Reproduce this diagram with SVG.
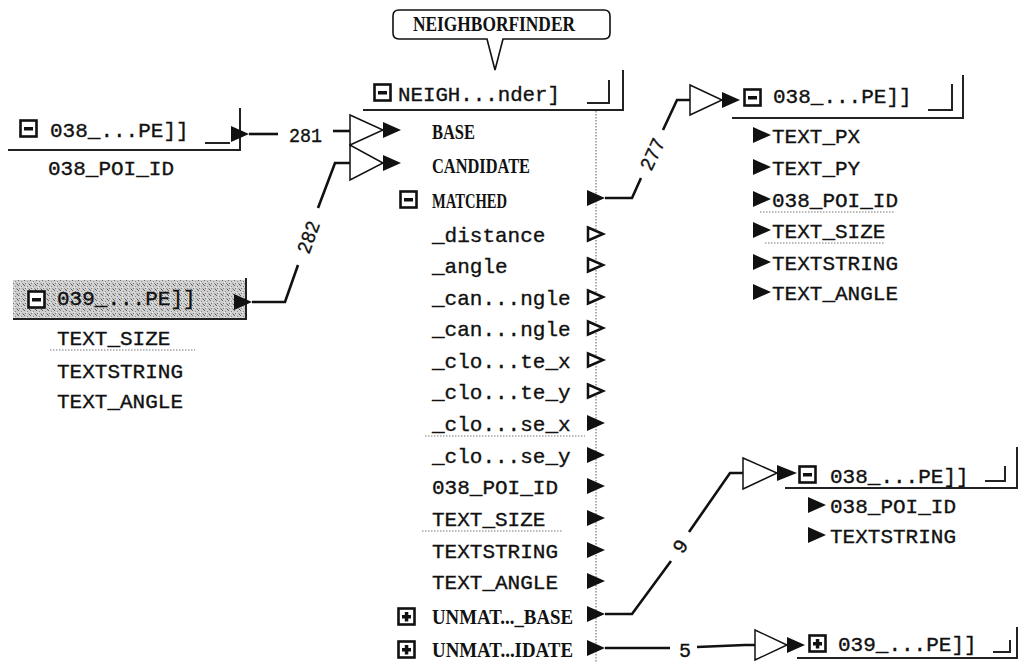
<svg xmlns="http://www.w3.org/2000/svg" width="1021" height="663" viewBox="0 0 1021 663">
<style>
.mono{font-family:"Liberation Mono","DejaVu Sans Mono",monospace;font-size:21px;fill:#111;stroke:#111;stroke-width:0.35}
.bold{font-family:"Liberation Serif","DejaVu Serif",serif;font-weight:bold;font-size:20px;fill:#111}
.lbl{font-family:"Liberation Mono","DejaVu Sans Mono",monospace;font-size:20px;fill:#111;stroke:#111;stroke-width:0.35}
.edge{fill:none;stroke:#111;stroke-width:2}
.frame{fill:none;stroke:#222;stroke-width:2}
.dots{fill:none;stroke:#777;stroke-width:1.2;stroke-dasharray:1.5 1.5}
.hol{fill:#fff;stroke:#111;stroke-width:1.5}
.pf{fill:#111}
.ph{fill:#fff;stroke:#111;stroke-width:2.5}
.ico{fill:#fff;stroke:#111;stroke-width:2.6}
.bar{fill:#111}
.conn{fill:none;stroke:#111;stroke-width:2.6;stroke-linejoin:miter}
</style>
<defs>
<polygon id="pf" class="pf" points="0,-8 18,0 0,8"/>
<polygon id="ph" class="ph" points="1,-6.5 16,0 1,6.5"/>
<g id="minus"><rect class="ico" x="1.5" y="1.5" width="16" height="16"/><rect class="bar" x="5" y="8" width="9" height="3.5"/></g>
<g id="plus"><rect class="ico" x="1.5" y="1.5" width="16" height="16"/><rect class="bar" x="5" y="8" width="9" height="3.5"/><rect class="bar" x="7.8" y="5" width="3.5" height="9.5"/></g>
<pattern id="noise" width="6" height="5" patternUnits="userSpaceOnUse">
<rect width="6" height="5" fill="#cfcfcf"/>
<rect x="0" y="0" width="1" height="1" fill="#666"/>
<rect x="3" y="1" width="1" height="1" fill="#888"/>
<rect x="1" y="3" width="1" height="1" fill="#777"/>
<rect x="4" y="3" width="1" height="1" fill="#999"/>
<rect x="2" y="2" width="1" height="1" fill="#eee"/>
<rect x="5" y="4" width="1" height="1" fill="#555"/>
</pattern>
</defs>

<g id="callout">
<path d="M399,10 H604 Q610,10 610,16 V33 Q610,39 604,39 H503 L495,70 L487,39 H399 Q393,39 393,33 V16 Q393,10 399,10 Z" fill="#fff" stroke="#111" stroke-width="1.6"/>
<text class="bold" x="413" y="31" textLength="162" lengthAdjust="spacingAndGlyphs">NEIGHBORFINDER</text>
</g>

<g id="node-neighborfinder">
<use href="#minus" x="373" y="83"/>
<text class="mono" x="398" y="101" textLength="162" lengthAdjust="spacingAndGlyphs">NEIGH...nder]</text>
<polyline class="frame" points="587,103 609,103 609,80"/>
<polyline class="frame" points="363,110 623,110 623,70"/>
<line class="dots" x1="596" y1="111" x2="596" y2="663"/>
<text class="bold" x="432" y="139" textLength="43" lengthAdjust="spacingAndGlyphs">BASE</text>
<text class="bold" x="432" y="173" textLength="98" lengthAdjust="spacingAndGlyphs">CANDIDATE</text>
<use href="#minus" x="399" y="190"/>
<text class="bold" x="432" y="208" textLength="75" lengthAdjust="spacingAndGlyphs">MATCHED</text>
<use href="#pf" x="587" y="198"/>
<text class="mono" x="432" y="242">_distance</text>
<text class="mono" x="432" y="273">_angle</text>
<text class="mono" x="432" y="305">_can...ngle</text>
<text class="mono" x="432" y="336">_can...ngle</text>
<text class="mono" x="432" y="368">_clo...te_x</text>
<text class="mono" x="432" y="399">_clo...te_y</text>
<text class="mono" x="432" y="431">_clo...se_x</text>
<line class="dots" x1="425" y1="436" x2="585" y2="436"/>
<text class="mono" x="432" y="463">_clo...se_y</text>
<text class="mono" x="432" y="494">038_POI_ID</text>
<text class="mono" x="432" y="526">TEXT_SIZE</text>
<line class="dots" x1="422" y1="531" x2="562" y2="531"/>
<text class="mono" x="432" y="558">TEXTSTRING</text>
<text class="mono" x="432" y="589">TEXT_ANGLE</text>
<use href="#ph" x="587" y="234"/>
<use href="#ph" x="587" y="265"/>
<use href="#ph" x="587" y="297"/>
<use href="#ph" x="587" y="328"/>
<use href="#ph" x="587" y="360"/>
<use href="#ph" x="587" y="391"/>
<use href="#pf" x="587" y="423"/>
<use href="#pf" x="587" y="455"/>
<use href="#pf" x="587" y="486"/>
<use href="#pf" x="587" y="518"/>
<use href="#pf" x="587" y="550"/>
<use href="#pf" x="587" y="581"/>
<use href="#plus" x="397" y="607"/>
<text class="bold" x="432" y="624" textLength="141" lengthAdjust="spacingAndGlyphs">UNMAT..._BASE</text>
<use href="#pf" x="587" y="614"/>
<use href="#plus" x="397" y="640"/>
<text class="bold" x="432" y="657" textLength="141" lengthAdjust="spacingAndGlyphs">UNMAT...IDATE</text>
<use href="#pf" x="587" y="648"/>
</g>

<g id="node-left1">
<use href="#minus" x="19" y="119"/>
<text class="mono" x="50" y="137">038_...PE]]</text>
<line class="frame" x1="205" y1="143" x2="230" y2="143"/>
<polyline class="frame" points="8,150 240,150 240,108"/>
<use href="#pf" x="231" y="134"/>
<text class="mono" x="48" y="175">038_POI_ID</text>
</g>

<g id="node-left2">
<rect x="13" y="280" width="234" height="39" fill="url(#noise)"/>
<use href="#minus" x="27" y="290"/>
<text class="mono" x="57" y="305" fill="#333">039_...PE]]</text>
<polyline class="frame" points="13,319 246,319 246,278" stroke="#555"/>
<use href="#pf" x="234" y="302"/>
<text class="mono" x="57" y="345">TEXT_SIZE</text>
<line class="dots" x1="50" y1="350" x2="195" y2="350"/>
<text class="mono" x="57" y="378">TEXTSTRING</text>
<text class="mono" x="57" y="408">TEXT_ANGLE</text>
</g>

<g id="node-right1">
<use href="#minus" x="743" y="88"/>
<text class="mono" x="773" y="103">038_...PE]]</text>
<polyline class="frame" points="928,110 952,110 952,84"/>
<polyline class="frame" points="732,118 963,118 963,75"/>
<use href="#pf" x="753" y="135"/>
<text class="mono" x="772" y="143">TEXT_PX</text>
<use href="#pf" x="753" y="167"/>
<text class="mono" x="772" y="175">TEXT_PY</text>
<use href="#pf" x="753" y="199"/>
<text class="mono" x="772" y="207">038_POI_ID</text>
<line class="dots" x1="760" y1="212" x2="895" y2="212"/>
<use href="#pf" x="753" y="230"/>
<text class="mono" x="772" y="238">TEXT_SIZE</text>
<line class="dots" x1="765" y1="243" x2="885" y2="243"/>
<use href="#pf" x="753" y="262"/>
<text class="mono" x="772" y="270">TEXTSTRING</text>
<use href="#pf" x="753" y="292"/>
<text class="mono" x="772" y="300">TEXT_ANGLE</text>
</g>

<g id="node-right2">
<use href="#minus" x="798" y="465"/>
<text class="mono" x="830" y="483">038_...PE]]</text>
<polyline class="frame" points="985,481 1005,481 1005,466"/>
<polyline class="frame" points="785,488 1017,488 1017,447"/>
<use href="#pf" x="808" y="505"/>
<text class="mono" x="830" y="513">038_POI_ID</text>
<use href="#pf" x="808" y="535"/>
<text class="mono" x="830" y="543">TEXTSTRING</text>
</g>

<g id="node-right3">
<use href="#plus" x="808" y="634"/>
<text class="mono" x="838" y="651">039_...PE]]</text>
<polyline class="frame" points="993,652 1010,652 1010,640"/>
<polyline class="frame" points="797,658 1017,658 1017,627"/>
</g>

<g id="connectors">
<polyline class="conn" points="249,134 278,134"/>
<text class="lbl" x="289" y="142" textLength="33" lengthAdjust="spacingAndGlyphs">281</text>
<polyline class="conn" points="333,131 350,131"/>
<polygon class="hol" points="350,115 350,145 383,130"/>
<polygon class="hol" points="350,145 350,180 383,163"/>
<polygon class="pf" points="383,122 401,130 383,138"/>
<polygon class="pf" points="383,155 401,163 383,171"/>

<polyline class="conn" points="252,302 285,302 298,265"/>
<polyline class="conn" points="318,208 335,163 350,163"/>
<text class="lbl" transform="translate(308,237) rotate(-70)" text-anchor="middle" dy="7" textLength="33" lengthAdjust="spacingAndGlyphs">282</text>

<polyline class="conn" points="605,198 632,198 641,178"/>
<polyline class="conn" points="663,130 677,100 690,100"/>
<text class="lbl" transform="translate(652,154) rotate(-65)" text-anchor="middle" dy="7" textLength="33" lengthAdjust="spacingAndGlyphs">277</text>
<polygon class="hol" points="690,85 690,115 722,100"/>
<polygon class="pf" points="722,92 740,100 722,108"/>

<polyline class="conn" points="605,614 632,614 671,561"/>
<polyline class="conn" points="689,532 730,473 743,473"/>
<text class="lbl" transform="translate(680,546) rotate(-55)" text-anchor="middle" dy="7">9</text>
<polygon class="hol" points="743,458 743,489 777,473"/>
<polygon class="pf" points="777,465 797,473 777,481"/>

<polyline class="conn" points="605,648 670,648"/>
<text class="lbl" x="679" y="657">5</text>
<polyline class="conn" points="697,647 745,645 755,645"/>
<polygon class="hol" points="755,630 755,660 787,645"/>
<polygon class="pf" points="787,637 805,645 787,653"/>
</g>
</svg>
